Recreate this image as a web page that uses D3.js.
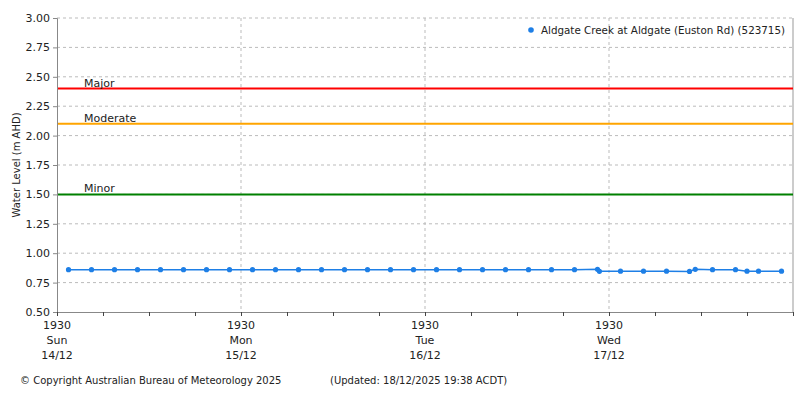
<!DOCTYPE html><html><head><meta charset="utf-8">
<script src="https://cdn.jsdelivr.net/npm/d3@7"></script>
<style>body{margin:0;background:#fff}text{font-family:"DejaVu Sans",sans-serif}</style></head><body>
<svg id="c" width="800" height="400"></svg>
<script>
// hours after Sun 14/12 19:30
const hours=[1.5,4.5,7.5,10.5,13.5,16.5,19.5,22.5,25.5,28.5,31.5,34.5,37.5,40.5,43.5,46.5,49.5,52.5,55.5,58.5,61.5,64.5,67.5,70.5,70.75,73.5,76.5,79.5,82.5,83.25,85.5,88.5,90,91.5,94.5];
const levels=[0.86,0.86,0.86,0.86,0.86,0.86,0.86,0.86,0.86,0.86,0.86,0.86,0.86,0.86,0.86,0.86,0.86,0.86,0.86,0.86,0.86,0.86,0.86,0.863,0.846,0.847,0.847,0.847,0.845,0.863,0.86,0.86,0.847,0.847,0.847];
const thresholds=[{name:"Major",v:2.40,c:"#ff0000"},{name:"Moderate",v:2.10,c:"#ffa500"},{name:"Minor",v:1.50,c:"#008000"}];
const dayLabels=[["1930","Sun","14/12"],["1930","Mon","15/12"],["1930","Tue","16/12"],["1930","Wed","17/12"]];
const yTicks=[0.5,0.75,1.0,1.25,1.5,1.75,2.0,2.25,2.5,2.75,3.0];
const L=57,R=793,T=18,B=312;
const x=d3.scaleLinear().domain([0,96]).range([L,R]);
const y=d3.scaleLinear().domain([0.5,3]).range([B,T]);
const svg=d3.select("#c");
const g=svg.append("g");
g.selectAll(".hg").data(yTicks.slice(1)).enter().append("line").attr("x1",L).attr("x2",R).attr("y1",d=>y(d)).attr("y2",d=>y(d)).attr("stroke","#bbb").attr("stroke-dasharray","3,3");
g.selectAll(".vg").data([24,48,72]).enter().append("line").attr("x1",d=>x(d)).attr("x2",d=>x(d)).attr("y1",T).attr("y2",B).attr("stroke","#bbb").attr("stroke-dasharray","3,3");
g.append("line").attr("x1",R).attr("x2",R).attr("y1",T).attr("y2",B).attr("stroke","#999");
thresholds.forEach(t=>{
 g.append("line").attr("x1",L).attr("x2",R).attr("y1",y(t.v)).attr("y2",y(t.v)).attr("stroke",t.c).attr("stroke-width",2);
 g.append("text").attr("x",84).attr("y",y(t.v)-2).attr("font-size",11).attr("fill","#222").text(t.name);
});
const ya=d3.axisLeft(y).tickValues(yTicks).tickFormat(d3.format(".2f")).tickSize(4);
svg.append("g").attr("transform",`translate(${L},0)`).call(ya).call(a=>{a.select(".domain").attr("stroke","#888");a.selectAll("line").attr("stroke","#888");a.selectAll("text").attr("font-size",11).attr("fill","#222").attr("font-family","DejaVu Sans")});
const xa=d3.axisBottom(x).tickValues(d3.range(0,97,6)).tickFormat("").tickSize(4);
svg.append("g").attr("transform",`translate(0,${B})`).call(xa).call(a=>{a.select(".domain").attr("stroke","#888");a.selectAll("line").attr("stroke","#444")});
dayLabels.forEach((lab,i)=>{lab.forEach((s,j)=>svg.append("text").attr("x",x(i*24)).attr("y",329+j*15).attr("text-anchor","middle").attr("font-size",11).attr("fill","#222").text(s));});
svg.append("text").attr("transform","translate(20,165) rotate(-90)").attr("text-anchor","middle").attr("font-size",10).attr("font-family","DejaVu Sans Mono").attr("fill","#222").text("Water Level (m AHD)");
const data=hours.map((h,i)=>[h,levels[i]]);
g.append("path").datum(data).attr("d",d3.line().x(d=>x(d[0])).y(d=>y(d[1]))).attr("fill","none").attr("stroke","#1e7fe6").attr("stroke-width",1.5);
g.selectAll(".pt").data(data).enter().append("circle").attr("cx",d=>x(d[0])).attr("cy",d=>y(d[1])).attr("r",2.6).attr("fill","#1e7fe6");
svg.append("circle").attr("cx",531).attr("cy",30).attr("r",2.8).attr("fill","#1e7fe6");
svg.append("text").attr("x",541).attr("y",34).attr("font-size",11).attr("textLength",244).attr("lengthAdjust","spacingAndGlyphs").attr("fill","#222").text("Aldgate Creek at Aldgate (Euston Rd) (523715)");
svg.append("text").attr("x",20).attr("y",384).attr("font-size",10).attr("fill","#222").text("© Copyright Australian Bureau of Meteorology 2025");
svg.append("text").attr("x",330).attr("y",384).attr("font-size",10).attr("fill","#222").text("(Updated: 18/12/2025 19:38 ACDT)");
</script></body></html>
